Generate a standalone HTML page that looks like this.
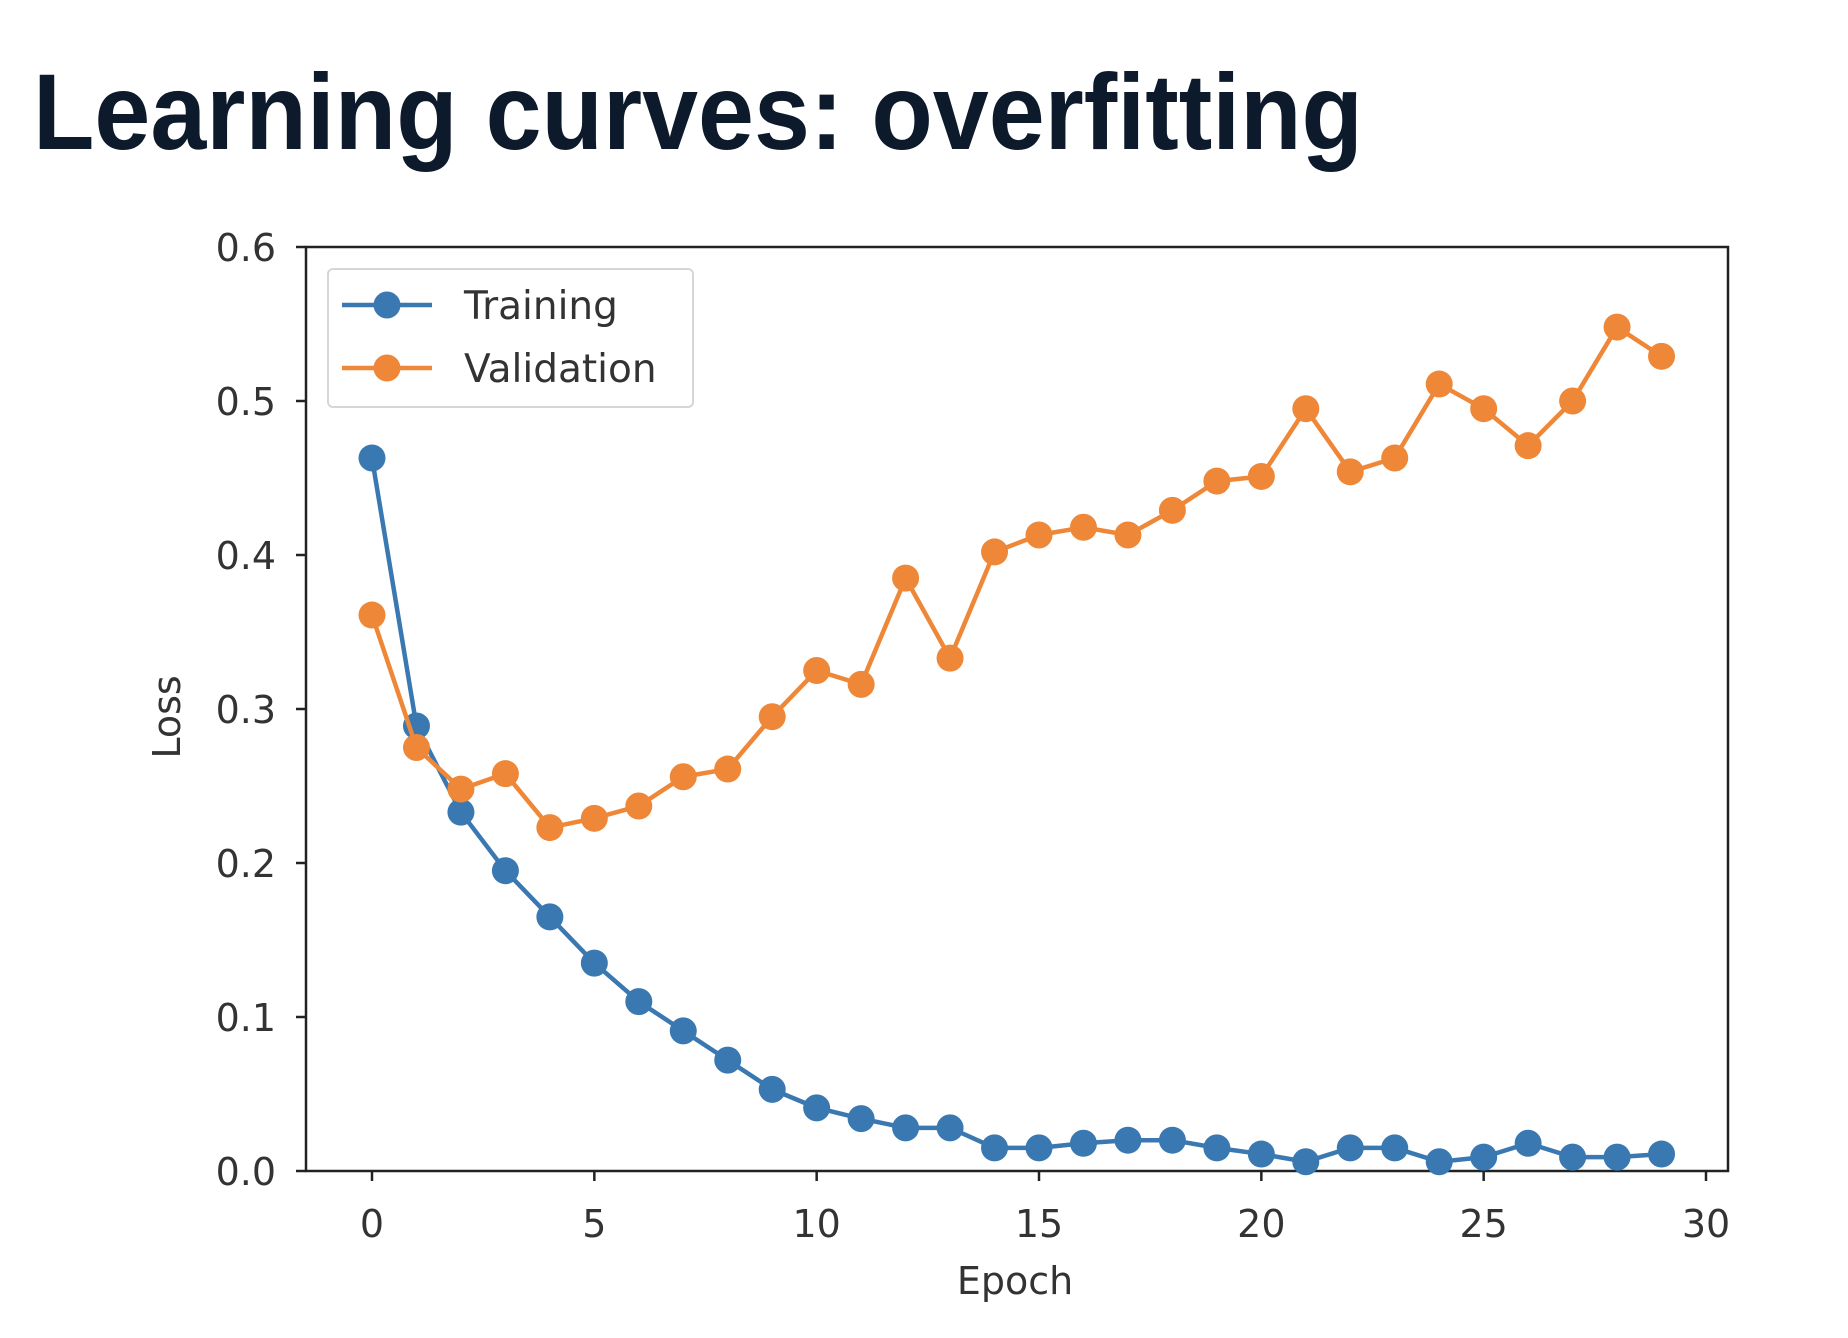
<!DOCTYPE html>
<html><head><meta charset="utf-8"><style>
body{margin:0;background:#fff;width:1848px;height:1338px;overflow:hidden}
svg{display:block}
</style></head><body>
<svg id="chart" width="1848" height="1338" xmlns="http://www.w3.org/2000/svg" font-family="'DejaVu Sans', 'Liberation Sans', sans-serif">
<text x="33" y="149" font-size="108" font-weight="bold" fill="#0d1a2b" font-family="'Liberation Sans', sans-serif" textLength="1330" lengthAdjust="spacingAndGlyphs">Learning curves: overfitting</text>
<g id="axes"></g>
</svg>
<script>
const epochs=[0,1,2,3,4,5,6,7,8,9,10,11,12,13,14,15,16,17,18,19,20,21,22,23,24,25,26,27,28,29];
const training=[0.463,0.289,0.233,0.195,0.165,0.135,0.110,0.091,0.072,0.053,0.041,0.034,0.028,0.028,0.015,0.015,0.018,0.020,0.020,0.015,0.011,0.006,0.015,0.015,0.006,0.009,0.018,0.009,0.009,0.011];
const validation=[0.361,0.275,0.248,0.258,0.223,0.229,0.237,0.256,0.261,0.295,0.325,0.316,0.385,0.333,0.402,0.413,0.418,0.413,0.429,0.448,0.451,0.495,0.454,0.463,0.511,0.495,0.471,0.500,0.548,0.529];
const xTicks=[0,5,10,15,20,25,30];
const yTicks=[0.0,0.1,0.2,0.3,0.4,0.5,0.6];
const yTickLabels=["0.0","0.1","0.2","0.3","0.4","0.5","0.6"];

const NS="http://www.w3.org/2000/svg";
const g=document.getElementById('axes');
const L=306,R=1728,T=247,B=1171;
const xs=v=>372+(v-0)*(1706-372)/30;
const ys=v=>B-(v/0.6)*(B-T);
function mk(tag,attrs){const e=document.createElementNS(NS,tag);for(const k in attrs)e.setAttribute(k,attrs[k]);g.appendChild(e);return e;}

const frame=mk('rect',{x:L,y:T,width:R-L,height:B-T,fill:'none',stroke:'#222','stroke-width':2.5});



yTicks.forEach((v,i)=>{
  const t=mk('line',{x1:L-10,x2:L,y1:ys(v),y2:ys(v),stroke:'#222','stroke-width':2.5});
  
  
  const tx=mk('text',{x:L-30,y:ys(v)+14,'text-anchor':'end','font-size':38,fill:'#333'});
  tx.textContent=yTickLabels[i];
  
  
});
xTicks.forEach(v=>{
  const t=mk('line',{x1:xs(v),x2:xs(v),y1:B,y2:B+10,stroke:'#222','stroke-width':2.5});
  
  
  const tx=mk('text',{x:xs(v),y:B+66,'text-anchor':'middle','font-size':38,fill:'#333'});
  tx.textContent=String(v);
  
  
});
const xl=mk('text',{x:1015,y:1294,'text-anchor':'middle','font-size':38,fill:'#333'});
xl.textContent='Epoch';


const yl=mk('text',{x:0,y:0,'text-anchor':'middle','font-size':38,fill:'#333',transform:'translate(180,717) rotate(-90)'});
yl.textContent='Loss';



function series(vals,color,name){
  const pts=vals.map((v,i)=>xs(epochs[i])+','+ys(v)).join(' ');
  const pl=mk('polyline',{points:pts,fill:'none',stroke:color,'stroke-width':4.5,'stroke-linejoin':'round'});
  
  
  vals.forEach((v,i)=>{
    const c=mk('circle',{cx:xs(epochs[i]),cy:ys(v),r:13.5,fill:color});
    
    
  });
}
series(training,'#3a78b2','training');
series(validation,'#ee8737','validation');

const lb=mk('rect',{x:328,y:269,width:365,height:138,rx:5,fill:'#fff',stroke:'#d6d6d6','stroke-width':2});


[['Training','#3a78b2',305],['Validation','#ee8737',368]].forEach(([lab,col,y])=>{
  const l=mk('line',{x1:342,x2:432,y1:y,y2:y,stroke:col,'stroke-width':4.5});
  
  
  const c=mk('circle',{cx:387,cy:y,r:13.5,fill:col});
  
  
  const t=mk('text',{x:464,y:y+14,'font-size':39,fill:'#333'});
  t.textContent=lab;
  
  
});
</script>
</body></html>
